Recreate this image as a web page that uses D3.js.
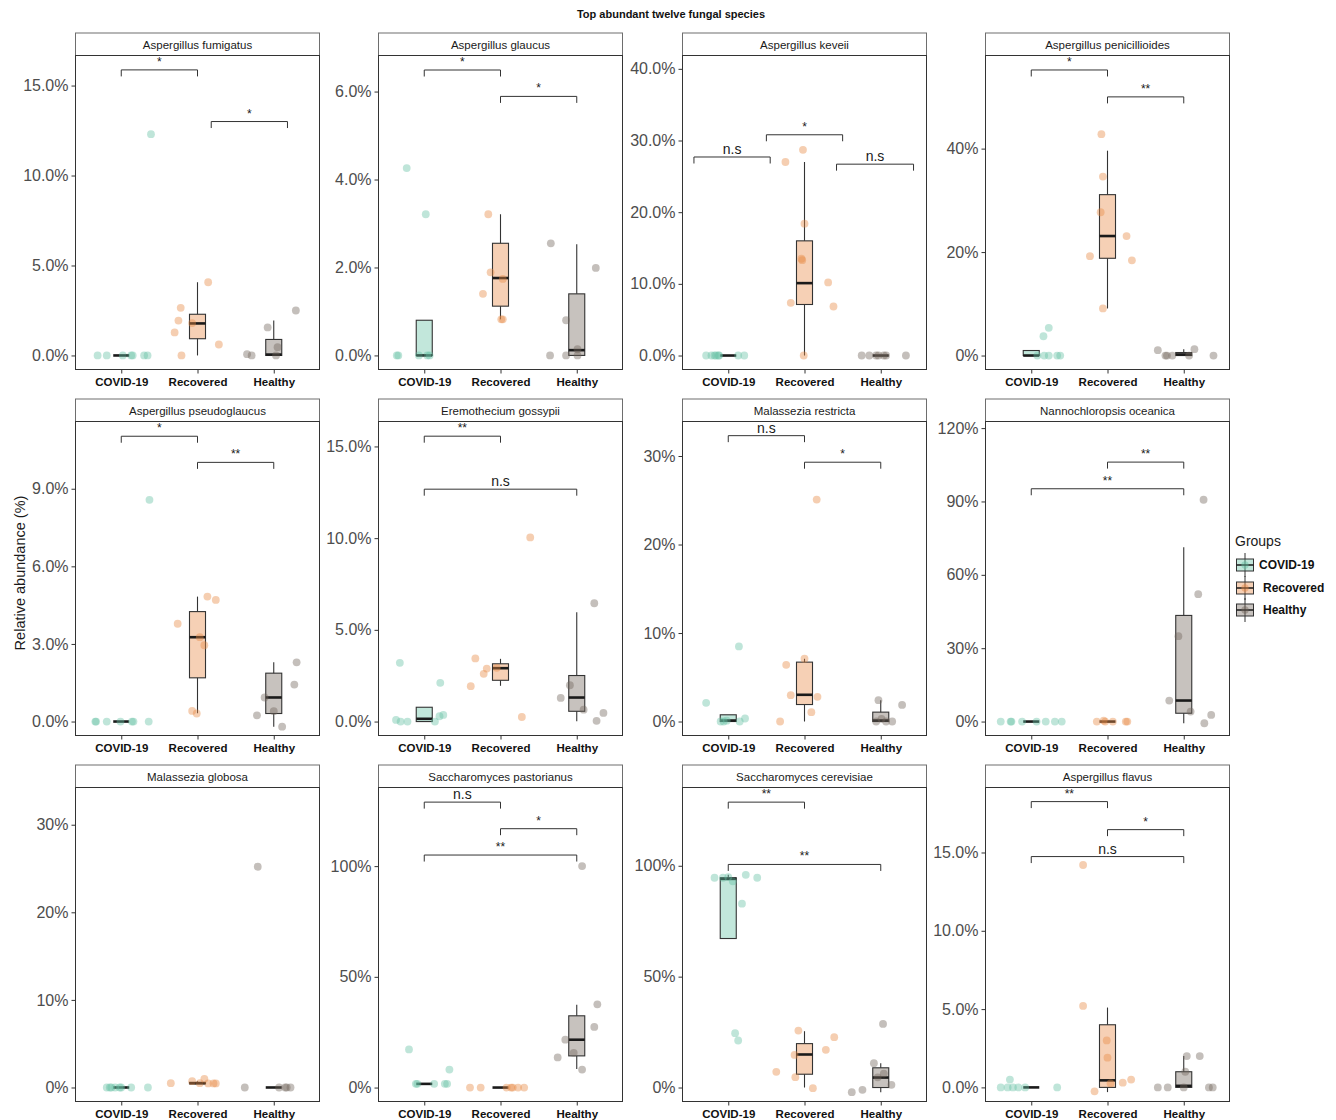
<!DOCTYPE html>
<html lang="en">
<head>
<meta charset="UTF-8">
<title>Top abundant twelve fungal species</title>
<script src="https://cdn.jsdelivr.net/npm/d3@7"></script>
<style>
  body { margin: 0; background: #fff; }
  text { font-family: "Liberation Sans", Arial, sans-serif; }
</style>
</head>
<body>
<svg width="1336" height="1120"></svg>
<script>
// ---- data ----
var species = ["Aspergillus fumigatus", "Aspergillus glaucus", "Aspergillus keveii", "Aspergillus penicillioides",
               "Aspergillus pseudoglaucus", "Eremothecium gossypii", "Malassezia restricta", "Nannochloropsis oceanica",
               "Malassezia globosa", "Saccharomyces pastorianus", "Saccharomyces cerevisiae", "Aspergillus flavus"];
var groups = ["COVID-19", "Recovered", "Healthy"];
var colors = ["#66C2A5", "#E88A46", "#73665C"];

// y range of each panel (%)
var yDomains = [[-0.78, 16.67], [-0.32, 6.82], [-1.95, 41.86], [-2.7, 58],
                [-0.54, 11.6], [-0.76, 16.36], [-1.58, 33.9], [-5.7, 122.7],
                [-1.6, 34.25], [-6.3, 135.5], [-6.3, 135.3], [-0.9, 19.15]];
var yTicks = [[0, 5, 10, 15], [0, 2, 4, 6], [0, 10, 20, 30, 40], [0, 20, 40],
              [0, 3, 6, 9], [0, 5, 10, 15], [0, 10, 20, 30], [0, 30, 60, 90, 120],
              [0, 10, 20, 30], [0, 50, 100], [0, 50, 100], [0, 5, 10, 15]];
var tickDigits = [1, 1, 1, 0, 1, 1, 0, 0, 0, 0, 0, 1];

// box stats per panel per group: [lower whisker, q1, median, q3, upper whisker]
var boxes = [
  [[0, 0, 0, 0, 0], [0, 0.93, 1.78, 2.29, 4.07], [0, 0, 0.05, 0.89, 1.94]],
  [[0, 0, 0, 0.80, 0.80], [0.82, 1.12, 1.76, 2.55, 3.21], [0, 0, 0.12, 1.40, 2.53]],
  [[0, 0, 0, 0, 0], [0, 7.12, 10.1, 16.0, 27.0], [0, 0, 0, 0, 0]],
  [[0, 0, 0, 0.97, 0.97], [9.1, 18.8, 23.1, 31.1, 39.6], [0, 0, 0.2, 0.58, 1.2]],
  [[0, 0, 0, 0, 0], [0.32, 1.69, 3.26, 4.25, 4.83], [-0.2, 0.31, 0.93, 1.87, 2.29]],
  [[0, 0, 0.15, 0.78, 0.78], [1.95, 2.25, 2.91, 3.15, 3.42], [0.02, 0.56, 1.31, 2.51, 5.96]],
  [[0, 0, 0.11, 0.76, 0.76], [0, 1.92, 3.02, 6.71, 7.09], [0, 0, 0.11, 1.06, 2.41]],
  [[0, 0, 0, 0, 0], [0, 0, 0, 0, 0], [-0.7, 3.4, 8.6, 43.4, 71.3]],
  [[0, 0, 0, 0, 0], [0.4, 0.42, 0.49, 0.58, 0.7], [0, 0, 0, 0, 0]],
  [[1.66, 1.66, 1.66, 1.66, 1.66], [0, 0, 0, 0, 0], [8.4, 14.3, 21.6, 32.4, 37.4]],
  [[67.2, 67.2, 94.1, 94.6, 95.9], [0, 6.0, 14.9, 19.8, 25.4], [-2.1, 0, 4.5, 8.9, 11.0]],
  [[0, 0, 0, 0, 0], [-0.3, 0, 0.45, 4.0, 5.1], [0, 0, 0.1, 1.0, 2.0]]
];

// jittered samples: [offset from group centre (in group steps), value %]
var points = [
  [[[-0.31, 0], [-0.19, 0], [0.02, 0], [0.13, 0], [0.15, 0], [0.30, 0], [0.345, 0], [0.39, 12.3]],
   [[-0.22, 2.65], [-0.25, 1.94], [-0.30, 1.28], [-0.21, 0], [-0.07, 1.8], [0.14, 4.07], [0.28, 0.61]],
   [[-0.35, 0.07], [-0.29, 0], [-0.08, 1.56], [0.03, 0], [0.05, 0.46], [0.29, 2.5]]],
  [[[-0.36, 0], [-0.34, 0], [-0.23, 4.26], [0.02, 3.21], [-0.07, 0], [0.04, 0], [0.07, 0]],
   [[-0.16, 3.21], [-0.13, 1.89], [-0.23, 1.40], [0.03, 1.74], [0.01, 0.82], [0.03, 0.82]],
   [[-0.34, 2.55], [-0.35, 0], [-0.14, 0.80], [-0.14, 0], [0.01, 0.14], [0.01, 0], [0.25, 1.99]]],
  [[[-0.29, 0], [-0.22, 0], [-0.18, 0], [-0.16, 0], [-0.13, 0], [-0.12, 0], [0.13, 0], [0.21, 0]],
   [[-0.25, 27.0], [-0.02, 28.7], [0.0, 18.4], [-0.04, 13.5], [-0.03, 13.3], [0.31, 10.2], [-0.18, 7.35], [0.38, 6.84], [-0.01, 0]],
   [[-0.25, 0], [-0.15, 0], [-0.06, 0], [-0.03, 0], [0.04, 0], [0.07, 0], [0.33, 0]]],
  [[[0.16, 3.73], [0.23, 5.35], [0.08, 0], [0.17, 0], [0.23, 0], [0.34, 0], [0.38, 0]],
   [[-0.08, 42.8], [-0.06, 34.6], [-0.09, 27.7], [0.25, 23.1], [-0.23, 19.2], [0.32, 18.4], [-0.06, 9.1]],
   [[-0.34, 1.03], [-0.24, 0], [-0.22, 0], [-0.15, 0], [0.07, 0], [0.14, 1.22], [0.39, 0]]],
  [[[-0.34, 0], [-0.33, 0], [-0.19, 0], [-0.01, 0], [0.14, 0], [0.16, 0], [0.36, 0], [0.37, 8.57]],
   [[-0.26, 3.78], [0.13, 4.83], [0.24, 4.70], [0.03, 3.26], [0.09, 2.95], [-0.07, 0.41], [-0.01, 0.31]],
   [[-0.22, 0.24], [-0.12, 0.93], [0.0, 0.40], [0.11, -0.2], [0.27, 1.43], [0.30, 2.29]]],
  [[[-0.37, 0.09], [-0.31, 0], [-0.22, 0], [-0.32, 3.2], [0.14, 0], [0.20, 0.29], [0.25, 0.36], [0.21, 2.11]],
   [[-0.33, 3.44], [-0.18, 2.89], [-0.22, 2.6], [-0.39, 1.93], [-0.05, 2.93], [0.39, 10.04], [0.28, 0.25]],
   [[-0.21, 1.29], [-0.09, 1.98], [0.09, 0.65], [0.23, 6.45], [0.26, 0.04], [0.35, 0.47]]],
  [[[-0.29, 2.11], [0.14, 8.48], [-0.1, 0], [-0.06, 0], [-0.02, 0.1], [0.15, 0], [0.22, 0.34]],
   [[-0.24, 6.41], [0.0, 7.09], [0.16, 25.08], [-0.18, 2.98], [0.17, 2.79], [0.09, 1.06], [-0.32, 0]],
   [[-0.03, 2.41], [0.28, 1.88], [-0.06, 0], [0.01, 0.3], [0.07, 0], [0.15, 0]]],
  [[[-0.40, 0], [-0.27, 0], [-0.26, 0], [-0.12, 0], [0.07, 0], [0.19, 0], [0.31, 0], [0.40, 0]],
   [[-0.14, 0], [-0.05, 0.4], [-0.03, 0], [0.07, 0], [0.24, 0], [0.26, 0]],
   [[0.26, 90.7], [0.19, 52.1], [-0.07, 34.9], [-0.19, 8.6], [0.09, 4.1], [0.36, 2.7], [0.27, -0.7]]],
  [[[-0.19, 0], [-0.15, 0], [-0.13, 0], [-0.08, 0], [-0.02, 0], [0.0, 0], [0.13, 0], [0.35, 0]],
   [[-0.35, 0.49], [-0.07, 0.72], [0.03, 0.49], [0.09, 0.99], [0.14, 0.46], [0.21, 0.46], [0.24, 0.46]],
   [[-0.38, 0], [-0.21, 25.2], [0.07, 0], [0.15, 0], [0.17, 0], [0.22, 0]]],
  [[[-0.2, 17.2], [0.33, 8.1], [-0.11, 1.66], [-0.09, 1.66], [0.13, 1.66], [0.27, 1.66], [0.30, 1.66]],
   [[-0.4, 0], [-0.26, 0], [0.08, 0], [0.14, 0], [0.16, 0], [0.23, 0], [0.31, 0]],
   [[0.07, 100], [0.27, 37.6], [0.23, 27.4], [-0.15, 21.6], [-0.25, 13.6], [-0.04, 15.7], [0.07, 8.1]]],
  [[[-0.18, 94.6], [-0.07, 94.6], [0.0, 94.9], [0.06, 93.0], [0.23, 95.9], [0.38, 94.6], [0.18, 82.9], [0.09, 24.5], [0.13, 21.2]],
   [[-0.08, 25.7], [0.39, 22.7], [0.28, 17.0], [-0.13, 14.7], [-0.37, 7.1], [-0.12, 4.65], [0.11, -0.3]],
   [[0.03, 28.7], [-0.09, 11.0], [-0.04, 4.6], [0.04, 6.3], [0.14, 1.2], [-0.38, -2.1], [-0.24, -1.05]]],
  [[[-0.4, 0], [-0.31, 0], [-0.28, 0.5], [-0.24, 0], [-0.17, 0], [-0.08, 0], [0.34, 0]],
   [[-0.32, 14.2], [-0.32, 5.2], [-0.01, 3.0], [0.0, 1.9], [0.04, 0.26], [0.2, 0.3], [0.31, 0.5], [-0.17, -0.25]],
   [[-0.34, 0], [-0.21, 0], [0.0, 0], [0.02, 1.0], [0.04, 2.0], [0.21, 2.0], [0.33, 0], [0.38, 0]]]
];

// significance brackets: [from group, to group (1-based, may be fractional), height %, label]
var brackets = [
  [[1, 2, 15.87, "*"], [2.18, 3.18, 13.0, "*"]],
  [[1, 2, 6.49, "*"], [2, 3, 5.89, "*"]],
  [[0.55, 1.55, 27.7, "n.s"], [1.5, 2.5, 30.8, "*"], [2.42, 3.43, 26.7, "n.s"]],
  [[1, 2, 55.2, "*"], [2, 3, 50.0, "**"]],
  [[1, 2, 11.03, "*"], [2, 3, 10.02, "**"]],
  [[1, 2, 15.56, "**"], [1, 3, 12.67, "n.s"]],
  [[1, 2, 32.3, "n.s"], [2, 3, 29.3, "*"]],
  [[2, 3, 106.1, "**"], [1, 3, 95.2, "**"]],
  [],
  [[1, 2, 128.9, "n.s"], [2, 3, 116.9, "*"], [1, 3, 105.0, "**"]],
  [[1, 2, 128.7, "**"], [1, 3, 100.6, "**"]],
  [[1, 2, 18.25, "**"], [2, 3, 16.46, "*"], [1, 3, 14.74, "n.s"]]
];

// ---- layout ----
var svg = d3.select("svg"),
    panelW = 244, panelH = 314, stripH = 22.5,
    colX = [75.5, 378.5, 682.5, 985.5],
    rowY = [55.5, 421.5, 787.5];

svg.append("text")
   .attr("x", 671).attr("y", 17.5)
   .attr("text-anchor", "middle")
   .style("font-size", "11px").style("font-weight", "bold").style("fill", "#111")
   .text("Top abundant twelve fungal species");

svg.append("text")
   .attr("transform", "translate(25,573) rotate(-90)")
   .attr("text-anchor", "middle")
   .style("font-size", "14.5px").style("fill", "#1a1a1a")
   .text("Relative abundance (%)");

species.forEach(function(name, i) {
    var g = svg.append("g")
               .attr("transform", "translate(" + colX[i % 4] + "," + rowY[Math.floor(i / 4)] + ")");
    var x = d3.scalePoint().domain(groups).range([0, panelW]).padding(0.6),
        step = x.step(),
        y = d3.scaleLinear().domain(yDomains[i]).range([panelH, 0]);

    // strip
    g.append("rect")
     .attr("x", 0).attr("y", -stripH).attr("width", panelW).attr("height", stripH)
     .attr("fill", "#fff").attr("stroke", "#6e6e6e");
    g.append("text")
     .attr("x", panelW / 2).attr("y", -stripH + 15.5)
     .attr("text-anchor", "middle")
     .style("font-size", "11.5px").style("fill", "#1a1a1a")
     .text(name);

    // axes
    var ya = g.append("g")
              .call(d3.axisLeft(y).tickValues(yTicks[i]).tickSize(4).tickPadding(3)
                      .tickFormat(function(d) { return d.toFixed(tickDigits[i]) + "%"; }));
    ya.select(".domain").remove();
    ya.selectAll("line").attr("stroke", "#333");
    ya.selectAll("text").style("font-size", "16px").style("fill", "#4d4d4d").style("font-family", null);

    var xa = g.append("g")
              .attr("transform", "translate(0," + panelH + ")")
              .call(d3.axisBottom(x).tickSize(4).tickPadding(4));
    xa.select(".domain").remove();
    xa.selectAll("line").attr("stroke", "#333");
    xa.selectAll("text").style("font-size", "11.5px").style("font-weight", "bold")
      .style("fill", "#111").style("font-family", null);

    // boxes
    groups.forEach(function(grp, j) {
        var b = boxes[i][j], cx = x(grp), bw = 0.21 * step;
        g.append("line").attr("x1", cx).attr("x2", cx).attr("y1", y(b[0])).attr("y2", y(b[1]))
         .attr("stroke", "#333").attr("stroke-width", 1.1);
        g.append("line").attr("x1", cx).attr("x2", cx).attr("y1", y(b[3])).attr("y2", y(b[4]))
         .attr("stroke", "#333").attr("stroke-width", 1.1);
        g.append("rect")
         .attr("x", cx - bw / 2).attr("width", bw)
         .attr("y", y(b[3])).attr("height", y(b[1]) - y(b[3]))
         .attr("fill", colors[j]).attr("fill-opacity", 0.4)
         .attr("stroke", "#333").attr("stroke-width", 1.1);
        g.append("line").attr("x1", cx - bw / 2).attr("x2", cx + bw / 2)
         .attr("y1", y(b[2])).attr("y2", y(b[2]))
         .attr("stroke", "#1a1a1a").attr("stroke-width", 2.6);
    });

    // jittered points
    groups.forEach(function(grp, j) {
        g.selectAll(null).data(points[i][j]).enter().append("circle")
         .attr("cx", function(d) { return x(grp) + d[0] * step; })
         .attr("cy", function(d) { return y(d[1]); })
         .attr("r", 3.9)
         .attr("fill", colors[j]).attr("fill-opacity", 0.42);
    });

    // panel border
    g.append("rect").attr("width", panelW).attr("height", panelH)
     .attr("fill", "none").attr("stroke", "#333");

    // significance brackets
    brackets[i].forEach(function(s) {
        var x1 = x(groups[0]) + (s[0] - 1) * step,
            x2 = x(groups[0]) + (s[1] - 1) * step,
            by = y(s[2]), tip = 6.5;
        g.append("path")
         .attr("d", "M" + x1 + "," + (by + tip) + "V" + by + "H" + x2 + "V" + (by + tip))
         .attr("fill", "none").attr("stroke", "#333").attr("stroke-width", 1);
        var ns = s[3] === "n.s";
        g.append("text")
         .attr("x", (x1 + x2) / 2).attr("y", by - (ns ? 3 : 4))
         .attr("text-anchor", "middle")
         .style("font-size", ns ? "14px" : "12px").style("fill", "#1a1a1a")
         .text(s[3]);
    });
});

// legend
var lg = svg.append("g").attr("transform", "translate(1235,0)");
lg.append("text").attr("x", 0).attr("y", 546)
  .style("font-size", "14px").style("fill", "#1a1a1a").text("Groups");
var keyY = [565, 588, 610];
groups.forEach(function(grp, j) {
    var c = keyY[j];
    lg.append("line").attr("x1", 10).attr("x2", 10).attr("y1", c - 12).attr("y2", c + 12)
      .attr("stroke", "#333");
    lg.append("rect").attr("x", 1.5).attr("y", c - 6).attr("width", 17).attr("height", 12)
      .attr("fill", colors[j]).attr("fill-opacity", 0.4).attr("stroke", "#333");
    lg.append("line").attr("x1", 1.5).attr("x2", 18.5).attr("y1", c).attr("y2", c)
      .attr("stroke", "#1a1a1a").attr("stroke-width", 1.5);
    lg.append("circle").attr("cx", 10).attr("cy", c).attr("r", 3.7)
      .attr("fill", colors[j]).attr("fill-opacity", 0.45);
    lg.append("text").attr("x", j === 0 ? 24 : 28).attr("y", c + 4)
      .style("font-size", "12px").style("font-weight", "bold").style("fill", "#111")
      .text(grp);
});
</script>
</body>
</html>
